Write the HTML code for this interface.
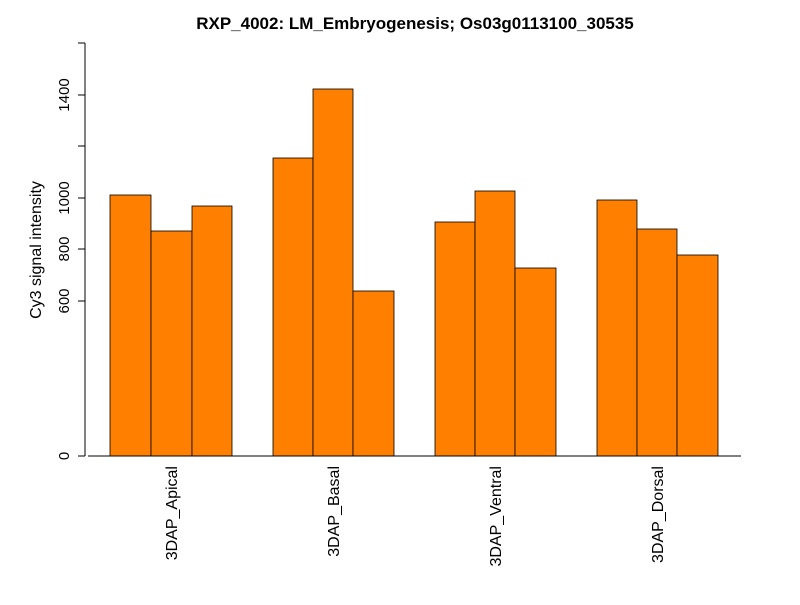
<!DOCTYPE html>
<html><head><meta charset="utf-8"><style>body{margin:0;background:#fff}</style></head><body>
<svg width="800" height="600" xmlns="http://www.w3.org/2000/svg" font-family="Liberation Sans, sans-serif">
<rect width="800" height="600" fill="#fff"/>
<text x="415" y="29" text-anchor="middle" font-size="17" font-weight="bold">RXP_4002: LM_Embryogenesis; Os03g0113100_30535</text>
<g fill="#ff7f00" stroke="#000" stroke-width="0.8">
<rect x="110" y="195" width="41" height="261"/>
<rect x="151" y="231" width="41" height="225"/>
<rect x="192" y="206" width="40" height="250"/>
<rect x="273" y="158" width="40" height="298"/>
<rect x="313" y="89" width="40" height="367"/>
<rect x="353" y="291" width="41" height="165"/>
<rect x="435" y="222" width="40" height="234"/>
<rect x="475" y="191" width="40" height="265"/>
<rect x="515" y="268" width="41" height="188"/>
<rect x="597" y="200" width="40" height="256"/>
<rect x="637" y="229" width="40" height="227"/>
<rect x="677" y="255" width="41" height="201"/>
</g>
<line x1="88" y1="456" x2="741" y2="456" stroke="#000"/>
<g stroke="#000">
<line x1="85" y1="43" x2="85" y2="456"/>
<line x1="78" y1="456" x2="85" y2="456"/>
<line x1="78" y1="301" x2="85" y2="301"/>
<line x1="78" y1="249" x2="85" y2="249"/>
<line x1="78" y1="198" x2="85" y2="198"/>
<line x1="78" y1="146" x2="85" y2="146"/>
<line x1="78" y1="95" x2="85" y2="95"/>
<line x1="78" y1="43" x2="85" y2="43"/>
</g>
<g font-size="15" text-anchor="middle">
<text transform="translate(69,456) rotate(-90)">0</text>
<text transform="translate(69,301) rotate(-90)">600</text>
<text transform="translate(69,249) rotate(-90)">800</text>
<text transform="translate(69,198) rotate(-90)">1000</text>
<text transform="translate(69,95) rotate(-90)">1400</text>
</g>
<text transform="translate(41,250) rotate(-90)" font-size="16" text-anchor="middle">Cy3 signal intensity</text>
<g font-size="16" text-anchor="end">
<text transform="translate(177,466) rotate(-90)">3DAP_Apical</text>
<text transform="translate(339,466) rotate(-90)">3DAP_Basal</text>
<text transform="translate(501,466) rotate(-90)">3DAP_Ventral</text>
<text transform="translate(663,466) rotate(-90)">3DAP_Dorsal</text>
</g>
</svg>
</body></html>
